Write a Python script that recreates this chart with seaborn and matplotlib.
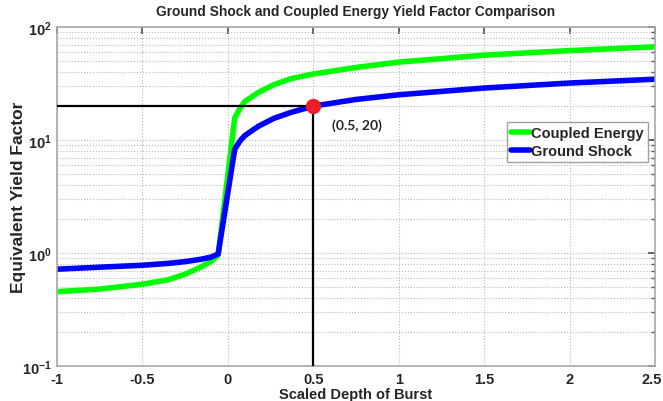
import matplotlib
matplotlib.use("Agg")
import matplotlib.pyplot as plt
import matplotlib.transforms as mtransforms
from matplotlib.ticker import FixedLocator, FuncFormatter, LogLocator, NullFormatter
import numpy as np
import pandas as pd
import seaborn as sns

# Scaled depth of burst samples
depth = [-1.0, -0.75, -0.5, -0.35, -0.25, -0.16, -0.1, -0.057, 0.04, 0.07, 0.1,
         0.18, 0.27, 0.37, 0.5, 0.75, 1.0, 1.5, 2.0, 2.5]
# Equivalent yield factors
coupled_energy = [0.455, 0.48, 0.53, 0.58, 0.65, 0.75, 0.84, 0.96, 15.7, 19.0, 22.0,
                  26.5, 31.0, 35.0, 38.5, 44.0, 49.0, 56.5, 62.0, 67.0]
ground_shock = [0.72, 0.75, 0.78, 0.81, 0.84, 0.88, 0.92, 0.98, 8.3, 9.8, 11.0,
                13.3, 15.6, 17.6, 20.0, 22.9, 25.2, 28.9, 32.0, 34.6]
series_names = ["Coupled Energy", "Ground Shock"]
series_colors = ["#00ff00", "#0000ff"]

# Reference point
ref_x, ref_y = 0.5, 20.0
ref_label = "(0.5, 20)"

x_ticks = [-1, -0.5, 0, 0.5, 1, 1.5, 2, 2.5]
x_tick_labels = ["-1", "-0.5", "0", "0.5", "1", "1.5", "2", "2.5"]
y_decades = [-1, 0, 1, 2]

sns.set_theme(style="white")
plt.rcParams["font.family"] = ["Liberation Sans", "DejaVu Sans"]
plt.rcParams["mathtext.fontset"] = "custom"
plt.rcParams["mathtext.bf"] = "Liberation Sans:bold"
plt.rcParams["mathtext.rm"] = "Liberation Sans:bold"

df = pd.DataFrame({
    "depth": depth * 2,
    "value": coupled_energy + ground_shock,
    "series": [series_names[0]] * len(depth) + [series_names[1]] * len(depth),
})

fig = plt.figure(figsize=(6.63, 4.02), dpi=100)
ax = fig.add_axes([0.086, 0.087, 0.902, 0.843])

sns.lineplot(data=df, x="depth", y="value", hue="series", hue_order=series_names,
             palette=dict(zip(series_names, series_colors)), linewidth=4,
             ax=ax, legend=False, sort=False)

ax.set_yscale("log")
ax.set_xlim(-1, 2.5)
ax.set_ylim(0.1, 100)

# Guide lines to the reference point
ax.plot([-1, ref_x], [ref_y, ref_y], color="black", linewidth=1.6, zorder=4)
ax.plot([ref_x, ref_x], [0.1, ref_y], color="black", linewidth=1.6, zorder=4)
ax.plot([ref_x], [ref_y], "o", color="#ee1c25", markersize=10, zorder=5)
ax.text(0.61, 13.8, ref_label, fontsize=10, fontweight="bold",
        family=["Lato", "DejaVu Sans"], ha="left", va="center")

# Ticks and grid
ax.xaxis.set_major_locator(FixedLocator(x_ticks))
ax.set_xticklabels(x_tick_labels)
ax.yaxis.set_major_locator(FixedLocator([10.0 ** d for d in y_decades]))
ax.yaxis.set_major_formatter(FuncFormatter(lambda v, p: r"$\mathbf{10^{%d}}$" % round(np.log10(v))))
ax.yaxis.set_minor_locator(LogLocator(base=10, subs=np.arange(2, 10)))
ax.yaxis.set_minor_formatter(NullFormatter())
ax.tick_params(axis="both", which="both", direction="in", top=True, right=True,
               color="#555555")
ax.tick_params(axis="both", which="major", length=5, labelsize=10.5, pad=4)
ax.tick_params(axis="y", which="minor", length=3)
xlabels = ax.get_xticklabels()
for lbl in xlabels:
    lbl.set_fontweight("bold")
# keep the last x tick label inside the canvas
last = xlabels[-1]
last.set_transform(last.get_transform() + mtransforms.ScaledTranslation(-3 / 100, 0, fig.dpi_scale_trans))

ax.grid(True, which="major", linestyle=":", color="#b8b8b8", linewidth=0.8)
ax.grid(True, which="minor", axis="y", linestyle=":", color="#b8b8b8", linewidth=0.8)
for s in ax.spines.values():
    s.set_color("#a8a8a8")
    s.set_linewidth(1.2)

ax.set_xlabel("Scaled Depth of Burst", fontsize=10.5, fontweight="bold", labelpad=1)
ax.set_ylabel("Equivalent Yield Factor", fontsize=12.5, fontweight="bold", labelpad=0)
ax.yaxis.set_label_coords(-0.052, 0.5)
ax.set_title("Ground Shock and Coupled Energy Yield Factor Comparison",
             fontsize=9.9, fontweight="bold", pad=9)

handles = [plt.Line2D([], [], color=c, linewidth=4) for c in series_colors]
leg = ax.legend(handles, series_names, loc="upper right", bbox_to_anchor=(0.989, 0.72),
                prop={"weight": "bold", "size": 10.5},
                frameon=True, fancybox=False, handlelength=1.3, handletextpad=0.1,
                borderpad=0.3, labelspacing=0.25, borderaxespad=0)
leg.get_frame().set_edgecolor("#888888")
leg.get_frame().set_linewidth(1.0)

fig.savefig("out.png", dpi=100)
